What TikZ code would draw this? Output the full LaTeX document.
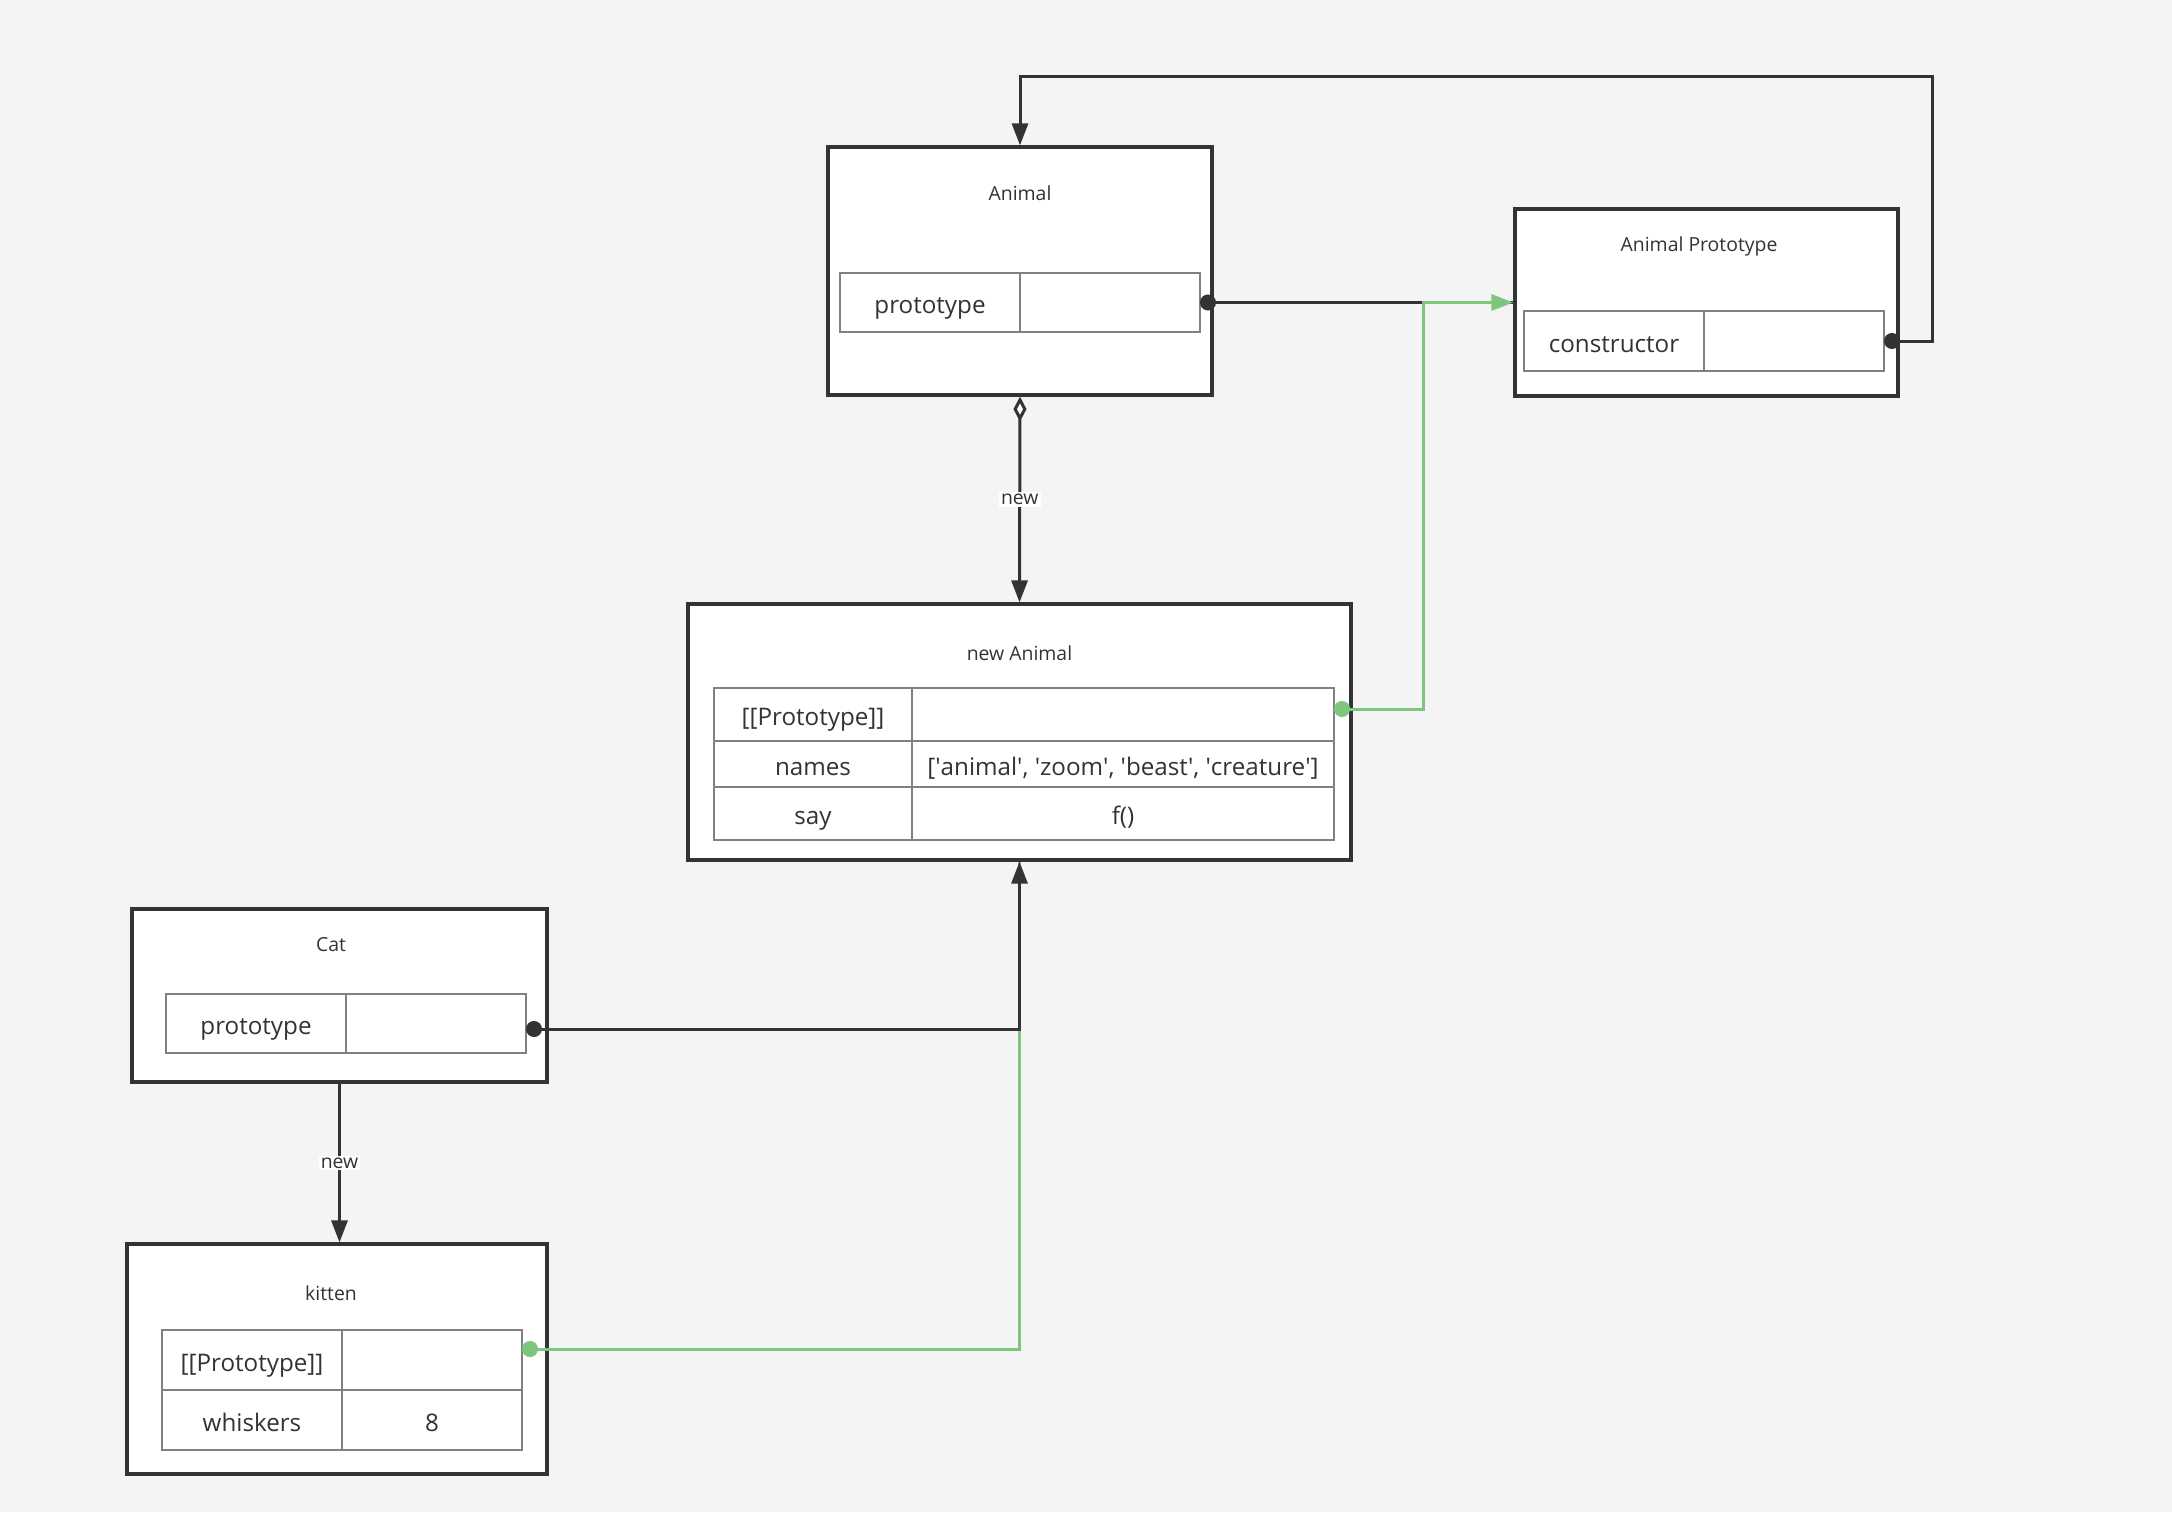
\documentclass[tikz,border=0pt]{standalone}
\usepackage{fontspec}
\setmainfont{Open Sans}
\usepackage{xcolor}
\usetikzlibrary{positioning,arrows.meta,calc}
\definecolor{bgpage}{RGB}{244,244,244}
\definecolor{lnk}{RGB}{51,51,51}
\definecolor{cellln}{RGB}{128,128,128}
\definecolor{protolnk}{RGB}{126,198,126}
\newcommand{\aposq}{\textquotesingle}

\begin{document}
\begin{tikzpicture}[x=0.5pt,y=-0.5pt,
  obj/.style={draw=lnk,line width=1.6pt,fill=white,inner sep=0pt},
  cell/.style={draw=cellln,line width=0.8pt,fill=white,inner sep=0pt,outer sep=0pt,
    minimum width=90pt,minimum height=29.5pt,text=lnk,text height=14pt,text depth=3pt,
    font=\fontsize{12.1pt}{14pt}\selectfont},
  ttl/.style={text=lnk,inner sep=1pt,font=\fontsize{9.7pt}{12pt}\selectfont},
  lbl/.style={fill=white,text=lnk,inner sep=1pt,font=\fontsize{9.7pt}{12pt}\selectfont},
  link/.style={draw=lnk,line width=1.5pt},
  plink/.style={draw=protolnk,line width=1.5pt},
  head/.style={-{Triangle[length=11pt,width=8pt]}},
  dothead/.style={{Circle[length=8pt]}-{Triangle[length=11pt,width=8pt]}},
  dotonly/.style={{Circle[length=8pt]}-}]
  \fill[bgpage] (0,0) rectangle (2172,1512);
  \useasboundingbox (0,0) rectangle (2172,1512);
  % ---- Animal ----
  \node[obj,minimum width=192pt,minimum height=124pt] (animal) at (1020,271) {};
  \node[ttl] (animaltitle) at (1020,193) {Animal};
  \node[cell] (animalkey) at (930,302.5) {prototype};
  \node[cell,right=0pt of animalkey] (animalval) {};
  % ---- Animal Prototype ----
  \node[obj,minimum width=191.5pt,minimum height=93.5pt] (aproto) at (1706.5,302.5) {};
  \node[ttl] (aprototitle) at (1699,246) {Animal Prototype};
  \node[cell,minimum height=30pt] (aprotokey) at (1614,341) {constructor};
  \node[cell,minimum height=30pt,right=0pt of aprotokey] (aprotoval) {};
  % ---- new Animal ----
  \node[obj,minimum width=331.5pt,minimum height=128pt] (inst) at (1019.5,732) {};
  \node[ttl] (insttitle) at (1019.5,653) {new Animal};
  \node[cell,minimum width=99pt,minimum height=26.5pt] (instkeya) at (813,714.5)
     {[[Prototype]]};
  \node[cell,minimum width=211pt,minimum height=26.5pt,right=0pt of instkeya]
     (instvala) {};
  \node[cell,minimum width=99pt,minimum height=23pt,below=0pt of instkeya]
     (instkeyb) {names};
  \node[cell,minimum width=211pt,minimum height=23pt,right=0pt of instkeyb] (instvalb)
     {[\aposq animal\aposq, \aposq zoom\aposq, \aposq beast\aposq, \aposq creature\aposq]};
  \node[cell,minimum width=99pt,minimum height=26.5pt,below=0pt of instkeyb]
     (instkeyc) {say};
  \node[cell,minimum width=211pt,minimum height=26.5pt,right=0pt of instkeyc]
     (instvalc) {f()};
  % ---- Cat ----
  \node[obj,minimum width=207.5pt,minimum height=86.5pt] (cat) at (339.5,995.5) {};
  \node[ttl] (cattitle) at (331,945) {Cat};
  \node[cell] (catkey) at (256,1023.5) {prototype};
  \node[cell,right=0pt of catkey] (catval) {};
  % ---- kitten ----
  \node[obj,minimum width=210pt,minimum height=115pt] (kitten) at (337,1359) {};
  \node[ttl] (kittentitle) at (331,1293) {kitten};
  \node[cell,minimum height=30pt] (kittenkeya) at (252,1360) {[[Prototype]]};
  \node[cell,minimum height=30pt,right=0pt of kittenkeya] (kittenvala) {};
  \node[cell,minimum height=30pt,below=0pt of kittenkeya] (kittenkeyb) {whiskers};
  \node[cell,minimum height=30pt,right=0pt of kittenkeyb] (kittenvalb) {8};
  % ---- links ----
  \coordinate (looptop) at (1932,76);
  \coordinate (kittendot) at ([yshift=5.5pt]kittenvala.east);
  \coordinate (instdot) at ([yshift=2.75pt]instvala.east);
  \coordinate (catdot) at ([yshift=-2.75pt]catval.east);
  \draw[plink,dotonly] (kittendot) -| (inst.south);
  \draw[link,dotonly] (animalval.east) -- (animalval.east -| aproto.west);
  \draw[plink,dothead] (instdot) -- ++(89,0) |- (aproto.west);
  \draw[link,dothead] (aprotoval.east) -| (looptop) -| (animal.north);
  \draw[link,{Diamond[fill=white,length=12.5pt,width=6.5pt]}-{Triangle[length=11pt,width=8pt]}]
     (animal.south) -- node[lbl]{new} (inst.north);
  \draw[link,dothead] (catdot) -| (inst.south);
  \draw[link,head] (cat.south) -- node[lbl]{new} (cat.south |- kitten.north);
\end{tikzpicture}
\end{document}
